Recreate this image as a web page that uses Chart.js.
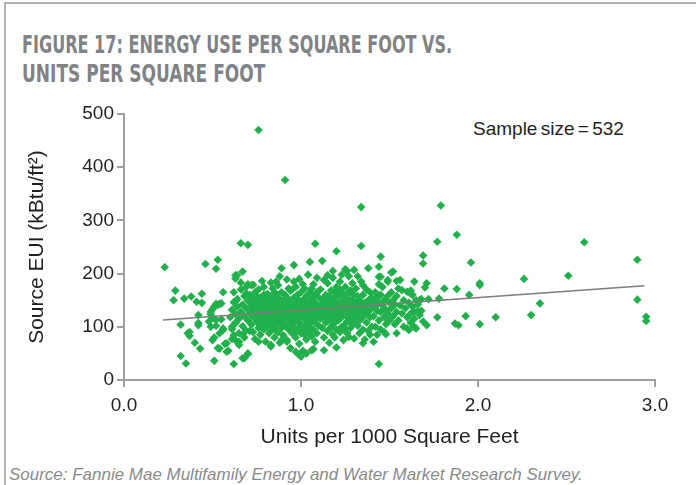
<!DOCTYPE html>
<html>
<head>
<meta charset="utf-8">
<script src="https://cdn.jsdelivr.net/npm/chart.js@4"></script>
<style>
  html, body { margin: 0; padding: 0; background: #fff; }
  #wrap { position: relative; width: 696px; height: 485px; overflow: hidden; }
  #frame { position: absolute; left: 4px; top: 2px; width: 720px; height: 520px;
           border-left: 2px solid #b4b4b4; border-top: 2px solid #b4b4b4; }
  .title { position: absolute; left: 22px; font-family: "Liberation Sans Narrow", "DejaVu Sans Condensed", sans-serif;
           font-weight: bold; font-size: 25px; color: #808285; white-space: nowrap; transform-origin: 0 0; line-height: 1; }
  #note { position: absolute; left: 473px; top: 118px; font-family: "Liberation Sans", Arial, sans-serif;
          font-size: 19px; color: #231f20; white-space: nowrap; word-spacing: -2px; }
  #source { position: absolute; left: 9px; top: 465px; font-family: "Liberation Sans", Arial, sans-serif;
            font-style: italic; font-size: 17px; color: #8a8a8a; white-space: nowrap; transform-origin: 0 0; }
  canvas { position: absolute; left: 0; top: 0; }
</style>
</head>
<body>
<div id="wrap">
  <div id="frame"></div>
  <div class="title" id="t1" style="top:32px">FIGURE 17: ENERGY USE PER SQUARE FOOT VS.</div>
  <div class="title" id="t2" style="top:61px">UNITS PER SQUARE FOOT</div>
  <div id="note">Sample size = 532</div>
  <div id="source">Source: Fannie Mae Multifamily Energy and Water Market Research Survey.</div>
  <canvas id="chart" width="696" height="485"></canvas>
</div>
<script>
// x = units per 1000 sq ft, y = source EUI (kBtu/ft2)

// scattered buildings left of the main cloud
const leftPoints = [
  [0.23,212],[0.46,218],[0.53,226],[0.52,209],[0.63,191],[0.63,197],[0.29,168],[0.28,150],[0.34,153],
  [0.38,157],[0.41,147],[0.44,162],[0.44,145],[0.56,165],[0.52,143],[0.54,143],[0.50,133],[0.49,123],
  [0.42,122],[0.32,104],[0.42,103],[0.49,100],[0.52,102],[0.56,94],[0.55,114],[0.61,100],[0.63,107],
  [0.37,90],[0.37,83],[0.40,70],[0.43,59],[0.50,75],[0.51,80],[0.54,59],[0.57,68],[0.59,55],[0.61,77],
  [0.65,72],[0.32,45],[0.35,31],[0.51,36],[0.62,30],[0.63,148],[0.54,88],[0.53,60],[0.58,69],[0.58,53],
  [0.63,75],[0.65,66],[0.68,41],[0.70,50],[0.42,107],[0.48,110],[0.50,118],[0.52,113],[0.56,97],
  [0.49,128],[0.51,138],[0.53,141],[0.55,144],[0.36,88]
];

// points above and below the main cloud
const edgePoints = [
  [0.76,470],[0.91,376],[1.34,325],[1.79,328],
  [0.66,257],[0.70,254],[1.08,256],[0.67,204],[0.64,197],[0.89,210],[0.96,216],[1.05,222],[1.12,224],
  [0.92,189],[0.70,180],[0.73,179],[0.83,183],[0.69,163],[1.34,252],[1.20,242],[1.45,232],[1.18,205],
  [1.15,197],[1.25,208],[1.30,207],[1.38,210],[1.44,213],[1.51,202],[1.49,188],[1.56,188],[1.44,194],
  [1.57,169],[1.45,194],[1.49,185],[1.52,204],[1.54,186],[1.60,166],
  [0.67,41],[0.70,49],[0.97,53],[0.99,47],[1.03,50],[1.06,56],[1.00,44],[0.83,63],[0.89,75],[0.92,72],
  [0.76,72],[0.67,85],[1.20,61],[1.35,69],[1.41,72],[1.48,86],[1.54,88],[1.27,81],[1.13,56],[1.44,30],
  [1.01,55],[1.07,58]
];

// sparse points right of the cloud
const rightPoints = [
  [1.88,273],[1.77,260],[1.69,234],[1.69,219],[1.96,221],[1.64,185],[1.71,182],[1.70,174],[1.81,172],
  [1.88,171],[2.01,182],[2.01,178],[1.95,160],[1.78,153],[1.62,168],[1.62,162],[1.72,152],[1.67,150],
  [1.65,150],[1.77,118],[1.93,120],[1.87,106],[1.89,103],[2.01,105],[2.10,118],[1.71,103],[1.65,97],
  [1.64,100],[1.61,94],[1.60,97],[1.62,125],[1.64,128],[1.66,130],
  [2.60,259],[2.90,226],[2.51,196],[2.26,190],[2.90,151],[2.35,144],[2.30,122],[2.95,119],[2.95,111]
];

// the dense cloud between 0.6 and 1.7 units
const cloudPoints = [
  [0.60,118],[0.61,132],[0.61,96],[0.62,146],[0.62,165],[0.63,108],[0.63,124],[0.64,138],[0.64,152],
  [0.65,88],[0.65,115],[0.66,128],[0.66,170],[0.67,142],[0.67,101],[0.68,158],[0.68,120],[0.69,135],
  [0.69,93],[0.70,149],[0.70,112],[0.68,80],[0.66,183],[0.62,84],[0.69,175],
  [0.71,126],[0.71,160],[0.72,104],[0.72,140],[0.72,178],[0.73,118],[0.73,152],[0.73,90],[0.74,132],
  [0.74,165],[0.74,77],[0.75,145],[0.75,110],[0.75,123],[0.76,98],[0.76,138],[0.76,170],[0.77,155],
  [0.77,116],[0.77,85],[0.78,130],[0.78,148],[0.78,105],[0.78,186],[0.79,120],[0.79,160],[0.79,140],
  [0.79,95],[0.80,112],[0.80,150],[0.80,128],[0.80,72],[0.71,92],[0.73,135],[0.75,158],[0.76,122],
  [0.77,102],[0.74,148],[0.72,125],[0.79,175],
  [0.81,136],[0.81,100],[0.81,162],[0.82,118],[0.82,145],[0.82,88],[0.83,128],[0.83,155],[0.83,108],
  [0.83,66],[0.84,140],[0.84,172],[0.84,120],[0.84,96],[0.85,150],[0.85,112],[0.85,132],[0.85,80],
  [0.86,160],[0.86,125],[0.86,104],[0.86,143],[0.87,118],[0.87,138],[0.87,90],[0.87,178],[0.88,152],
  [0.88,128],[0.88,110],[0.88,70],[0.89,145],[0.89,122],[0.89,98],[0.89,165],[0.90,135],[0.90,115],
  [0.90,150],[0.90,84],[0.82,132],[0.84,110],[0.86,92],[0.88,140],[0.85,165],[0.87,128],[0.89,108],
  [0.83,145],[0.81,120],[0.86,185],[0.88,195],[0.84,158],
  [0.91,128],[0.91,160],[0.91,102],[0.92,140],[0.92,118],[0.92,75],[0.93,150],[0.93,132],[0.93,95],
  [0.94,122],[0.94,168],[0.94,108],[0.94,60],[0.95,142],[0.95,128],[0.95,88],[0.96,155],[0.96,115],
  [0.96,135],[0.96,98],[0.97,125],[0.97,145],[0.97,80],[0.97,175],[0.98,138],[0.98,110],[0.98,160],
  [0.98,92],[0.99,130],[0.99,118],[0.99,150],[0.99,68],[1.00,140],[1.00,105],[1.00,122],[1.00,165],
  [0.92,155],[0.93,112],[0.95,105],[0.96,185],[0.97,112],[0.98,125],[0.99,100],[0.91,145],[0.94,135],
  [0.95,170],[0.97,135],[1.00,88],[0.93,172],[0.99,190],
  [1.01,128],[1.01,150],[1.01,95],[1.02,115],[1.02,138],[1.02,172],[1.03,125],[1.03,105],[1.03,158],
  [1.03,76],[1.04,145],[1.04,132],[1.04,90],[1.05,118],[1.05,165],[1.05,140],[1.05,100],[1.06,128],
  [1.06,152],[1.06,82],[1.06,110],[1.07,135],[1.07,180],[1.07,120],[1.07,95],[1.08,145],[1.08,108],
  [1.08,160],[1.08,130],[1.09,118],[1.09,140],[1.09,88],[1.09,192],[1.10,125],[1.10,155],[1.10,102],
  [1.10,135],[1.02,100],[1.04,112],[1.06,142],[1.08,72],[1.01,180],[1.03,142],[1.05,128],[1.07,155],
  [1.09,165],[1.04,198],[1.02,85],[1.06,172],[1.08,122],
  [1.11,142],[1.11,115],[1.11,170],[1.12,130],[1.12,98],[1.12,152],[1.13,122],[1.13,145],[1.13,80],
  [1.14,135],[1.14,108],[1.14,160],[1.15,125],[1.15,148],[1.15,92],[1.15,182],[1.16,138],[1.16,115],
  [1.16,70],[1.17,150],[1.17,128],[1.17,100],[1.17,168],[1.18,140],[1.18,118],[1.18,85],[1.18,192],
  [1.19,132],[1.19,155],[1.19,108],[1.20,145],[1.20,122],[1.20,175],[1.20,95],[1.12,118],[1.14,125],
  [1.16,158],[1.18,105],[1.13,188],[1.15,112],[1.17,140],[1.19,80],[1.11,128],[1.16,95],[1.19,165],
  [1.21,135],[1.21,158],[1.21,112],[1.22,145],[1.22,125],[1.22,185],[1.22,90],[1.23,140],[1.23,118],
  [1.23,165],[1.24,130],[1.24,152],[1.24,102],[1.24,75],[1.25,142],[1.25,122],[1.25,175],[1.26,135],
  [1.26,160],[1.26,110],[1.26,88],[1.27,148],[1.27,128],[1.27,195],[1.28,138],[1.28,115],[1.28,168],
  [1.28,98],[1.29,150],[1.29,125],[1.29,182],[1.30,140],[1.30,108],[1.30,160],[1.30,78],[1.21,128],
  [1.23,100],[1.25,155],[1.27,112],[1.29,138],[1.22,170],[1.24,140],[1.26,122],[1.28,150],[1.30,128],
  [1.23,198],[1.25,95],[1.27,165],[1.29,105],[1.26,205],
  [1.31,145],[1.31,120],[1.31,172],[1.32,135],[1.32,102],[1.32,158],[1.33,128],[1.33,150],[1.33,88],
  [1.34,140],[1.34,115],[1.34,185],[1.35,132],[1.35,160],[1.35,95],[1.36,145],[1.36,122],[1.36,76],
  [1.37,138],[1.37,170],[1.37,108],[1.38,150],[1.38,128],[1.38,92],[1.39,142],[1.39,118],[1.39,165],
  [1.40,135],[1.40,100],[1.40,155],[1.33,112],[1.35,178],[1.37,125],[1.39,85],[1.32,195],
  [1.41,148],[1.41,120],[1.42,138],[1.42,165],[1.42,100],[1.43,130],[1.43,155],[1.43,85],[1.44,145],
  [1.44,112],[1.45,160],[1.45,128],[1.45,95],[1.46,140],[1.46,175],[1.47,118],[1.47,150],[1.48,132],
  [1.48,105],[1.49,158],[1.49,125],[1.50,145],[1.50,112],[1.44,180],[1.47,90],
  [1.51,135],[1.51,165],[1.52,120],[1.52,150],[1.53,105],[1.53,142],[1.54,158],[1.54,128],[1.55,112],
  [1.55,172],[1.56,140],[1.57,125],[1.58,150],[1.58,100],[1.59,135],[1.60,118],
  [1.61,145],[1.62,108],[1.63,138],[1.64,115],[1.66,142],[1.67,122],[1.68,152],[1.69,110],[1.63,160],
  [1.68,130]
];

// linear trend line end points
const trendX = [0.22, 2.94];
const trendY = [113, 177];

const xTicks = [0, 1, 2, 3];
const yMax = 500;

const allPoints = [...leftPoints, ...cloudPoints, ...edgePoints, ...rightPoints]
  .map(p => ({ x: p[0], y: p[1] }));
const trend = trendX.map((x, i) => ({ x: x, y: trendY[i] }));

// squeeze the title lines to the width they have in the figure
function fitWidth(id, w) {
  const el = document.getElementById(id);
  el.style.transform = 'scaleX(' + (w / el.offsetWidth) + ')';
}
fitWidth('t1', 430);
fitWidth('t2', 243);
fitWidth('source', 574);

const fontFamily = '"Liberation Sans", Arial, sans-serif';
const tickFont = { family: fontFamily, size: 19 };
const titleFont = { family: fontFamily, size: 21 };

new Chart(document.getElementById('chart'), {
  type: 'scatter',
  data: {
    datasets: [
      {
        type: 'line',
        data: trend,
        borderColor: '#7d7d7d',
        borderWidth: 1.5,
        pointRadius: 0,
        order: 0
      },
      {
        data: allPoints,
        pointStyle: 'rectRot',
        pointRadius: 4.3,
        backgroundColor: '#21b04b',
        borderWidth: 0,
        order: 1
      }
    ]
  },
  options: {
    responsive: false,
    animation: false,
    layout: { padding: { top: 114, right: 41, left: 0, bottom: 0 } },
    plugins: { legend: { display: false }, tooltip: { enabled: false } },
    scales: {
      x: {
        type: 'linear',
        min: 0, max: 3,
        afterFit: s => { s.height = 105; },
        afterBuildTicks: s => { s.ticks = xTicks.map(v => ({ value: v })); },
        ticks: { color: '#231f20', font: tickFont, padding: 7, callback: v => v.toFixed(1) },
        grid: { drawOnChartArea: false, drawTicks: true, tickLength: 7, color: '#a0a0a0', lineWidth: 2 },
        border: { color: '#a0a0a0', width: 2 },
        title: { display: true, text: 'Units per 1000 Square Feet', color: '#231f20',
                 font: titleFont, padding: { top: 0, bottom: 35 } }
      },
      y: {
        type: 'linear',
        min: 0, max: yMax,
        afterFit: s => { s.width = 124; },
        ticks: { color: '#231f20', font: tickFont, padding: 3, stepSize: 100 },
        grid: { drawOnChartArea: false, drawTicks: true, tickLength: 7, color: '#a0a0a0', lineWidth: 2 },
        border: { color: '#a0a0a0', width: 2 },
        title: { display: true, text: 'Source EUI (kBtu/ft²)', color: '#231f20',
                 font: titleFont, padding: { top: 25 } }
      }
    }
  }
});
</script>
</body>
</html>
